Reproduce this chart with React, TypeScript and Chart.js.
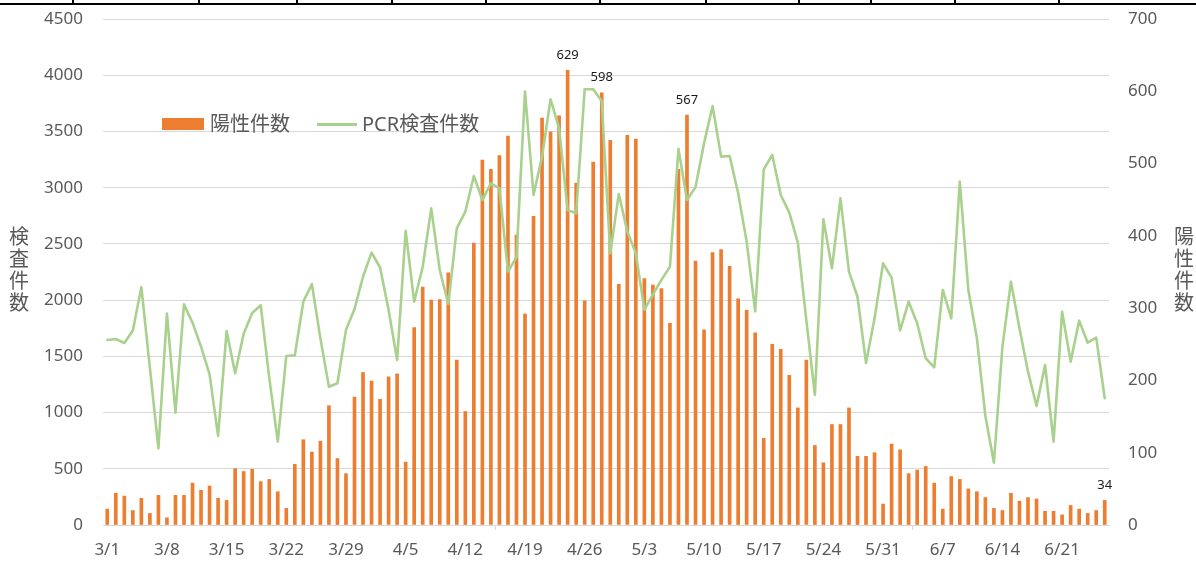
import React, { useEffect, useRef } from "react";
import { Chart, registerables } from "chart.js";

Chart.register(...registerables);

// ---- categories (3/1 .. 6/26) ----
const monthLengths: [number, number][] = [[3, 31], [4, 30], [5, 31], [6, 30]];
const allDays: string[] = [];
for (const [m, n] of monthLengths) for (let d = 1; d <= n; d++) allDays.push(`${m}/${d}`);
const categories: string[] = allDays.slice(0, 118);

// ---- series ----
const positives: number[] = [
  22, 44, 40, 20, 37, 16, 41, 10, 41, 41,
  58, 48, 54, 37, 34, 78, 74, 77, 60, 63,
  46, 23, 84, 118, 101, 116, 165, 92, 71, 177,
  211, 199, 174, 205, 209, 87, 273, 329, 311, 312,
  349, 228, 157, 390, 505, 492, 511, 538, 401, 292,
  427, 563, 544, 566, 629, 473, 310, 502, 598, 532,
  333, 539, 534, 341, 332, 327, 279, 492, 567, 365,
  270, 377, 381, 358, 313, 297, 266, 120, 250, 243,
  207, 162, 228, 110, 86, 139, 139, 162, 95, 95,
  100, 29, 112, 104, 71, 76, 81, 58, 22, 67,
  63, 50, 46, 38, 23, 20, 44, 33, 38, 36,
  19, 19, 14, 27, 22, 16, 20, 34,
];

const pcrTests: number[] = [
  1645, 1654, 1619, 1730, 2115, 1400, 682, 1880, 999, 1962,
  1800, 1586, 1340, 792, 1725, 1349, 1700, 1885, 1954, 1310,
  741, 1503, 1510, 1986, 2143, 1660, 1230, 1260, 1735, 1920,
  2208, 2422, 2290, 1912, 1468, 2617, 1986, 2297, 2816, 2268,
  1965, 2638, 2787, 3104, 2890, 3039, 2994, 2253, 2381, 3854,
  2935, 3276, 3786, 3528, 2801, 2772, 3875, 3875, 3771, 2416,
  2944, 2609, 2416, 1915, 2050, 2180, 2297, 3345, 2890, 3005,
  3394, 3726, 3276, 3282, 2950, 2520, 1900, 3163, 3291, 2935,
  2778, 2511, 1820, 1156, 2719, 2283, 2905, 2253, 2030, 1440,
  1838, 2327, 2200, 1730, 1986, 1794, 1483, 1402, 2090, 1838,
  3054, 2090, 1665, 970, 554, 1586, 2164, 1750, 1364, 1058,
  1423, 741, 1897, 1453, 1817, 1621, 1666, 1127,
];

// bars that carry a value label
const labeledBars: number[] = [54, 58, 68, 117];

// axis settings
const leftMax = 4500;
const leftStep = 500;
const rightMax = 700;
const rightStep = 100;
const xLabelEvery = 7;

const seriesNames = { bar: "陽性件数", line: "PCR検査件数" };
const axisTitles = { left: "検査件数", right: "陽性件数" };

const FONT = '"Noto Sans", "Noto Sans CJK JP", sans-serif';
const GRAY = "#595959";
const GRID = "#d9d9d9";
const ORANGE = "#ed7d31";
const GREEN = "#a9d18e";

const topTicks = [73, 199, 297, 392, 486, 600, 706, 799, 871, 955, 1059];

const barLabelPlugin = {
  id: "barLabels",
  afterDatasetsDraw(chart: any) {
    const meta = chart.getDatasetMeta(0);
    const ctx = chart.ctx;
    ctx.save();
    ctx.font = `13px ${FONT}`;
    ctx.fillStyle = "#1a1a1a";
    ctx.textAlign = "center";
    ctx.textBaseline = "middle";
    for (const i of labeledBars) {
      const el = meta.data[i];
      if (!el) continue;
      ctx.fillText(String(positives[i]), el.x, el.y - 15);
    }
    ctx.restore();
  },
};

export default function App() {
  const ref = useRef<HTMLCanvasElement>(null);

  useEffect(() => {
    if (!ref.current) return;
    const tickVis = (c: any) => (c.index % xLabelEvery === 0 ? GRID : "rgba(0,0,0,0)");
    const chart = new Chart(ref.current, {
      type: "bar",
      data: {
        labels: categories,
        datasets: [
          {
            type: "bar",
            label: seriesNames.bar,
            data: positives,
            backgroundColor: ORANGE,
            borderWidth: 0,
            barThickness: 3,
            yAxisID: "yR",
            order: 2,
          },
          {
            type: "line",
            label: seriesNames.line,
            data: pcrTests,
            borderColor: GREEN,
            borderWidth: 2.6,
            pointRadius: 0,
            tension: 0,
            borderJoinStyle: "round",
            borderCapStyle: "round",
            fill: false,
            yAxisID: "yL",
            order: 1,
          } as any,
        ],
      },
      options: {
        responsive: false,
        maintainAspectRatio: false,
        devicePixelRatio: 1,
        animation: false,
        layout: { padding: { top: 19, left: 0, right: 0, bottom: 0 } },
        plugins: {
          legend: { display: false },
          tooltip: { enabled: false },
        },
        scales: {
          x: {
            type: "category",
            offset: true,
            grid: {
              offset: true,
              drawOnChartArea: false,
              drawTicks: true,
              tickLength: 5,
              color: tickVis,
              tickColor: tickVis,
              lineWidth: 1,
            },
            border: { display: true, color: GRID, width: 1 },
            ticks: {
              autoSkip: false,
              maxRotation: 0,
              minRotation: 0,
              padding: 10,
              color: GRAY,
              font: { family: FONT, size: 17 },
              callback: (_v: any, idx: number) => (idx % xLabelEvery === 0 ? categories[idx] : null),
            },
            afterFit: (s: any) => {
              s.height = 38;
            },
          },
          yL: {
            type: "linear",
            position: "left",
            min: 0,
            max: leftMax,
            ticks: {
              stepSize: leftStep,
              padding: 20,
              color: GRAY,
              font: { family: FONT, size: 17 },
              callback: (v: any) => String(v),
            },
            grid: { color: GRID, drawTicks: false, lineWidth: 1 },
            border: { display: false },
            afterFit: (s: any) => {
              s.width = 103;
              s.paddingTop = 0;
              s.paddingBottom = 0;
            },
          },
          yR: {
            type: "linear",
            position: "right",
            min: 0,
            max: rightMax,
            ticks: {
              stepSize: rightStep,
              padding: 19,
              color: GRAY,
              font: { family: FONT, size: 17 },
              callback: (v: any) => String(v),
            },
            grid: { drawOnChartArea: false, drawTicks: false },
            border: { display: false },
            afterFit: (s: any) => {
              s.width = 87;
              s.paddingTop = 0;
              s.paddingBottom = 0;
            },
          },
        },
      } as any,
      plugins: [barLabelPlugin],
    });
    return () => chart.destroy();
  }, []);

  const stackStyle = (left: number): React.CSSProperties => ({
    position: "absolute",
    left,
    top: 226,
    width: 22,
    fontFamily: FONT,
    fontSize: 20,
    lineHeight: "22px",
    color: GRAY,
    textAlign: "center",
  });

  return (
    <div
      style={{
        position: "fixed",
        left: 0,
        top: 0,
        width: 1196,
        height: 563,
        background: "#fff",
        overflow: "hidden",
      }}
    >
      <canvas
        ref={ref}
        width={1196}
        height={563}
        style={{ position: "absolute", left: 0, top: 0, width: 1196, height: 563 }}
      />
      {/* top border of the cropped table above */}
      <div style={{ position: "absolute", left: 0, top: 3, width: 1196, height: 2, background: "#000" }} />
      {topTicks.map((x) => (
        <div key={x} style={{ position: "absolute", left: x - 1, top: 0, width: 2, height: 5, background: "#000" }} />
      ))}
      {/* legend */}
      <div style={{ position: "absolute", left: 162, top: 118, width: 42, height: 12, background: ORANGE }} />
      <div
        style={{
          position: "absolute",
          left: 210,
          top: 113,
          fontFamily: FONT,
          fontSize: 20,
          lineHeight: "22px",
          color: GRAY,
          whiteSpace: "nowrap",
        }}
      >
        {seriesNames.bar}
      </div>
      <div style={{ position: "absolute", left: 317, top: 122.5, width: 40, height: 3, background: GREEN }} />
      <div
        style={{
          position: "absolute",
          left: 362,
          top: 113,
          fontFamily: FONT,
          fontSize: 20,
          lineHeight: "22px",
          color: GRAY,
          whiteSpace: "nowrap",
        }}
      >
        {seriesNames.line}
      </div>
      {/* axis titles */}
      <div style={stackStyle(8)}>
        {axisTitles.left.split("").map((c, i) => (
          <div key={i}>{c}</div>
        ))}
      </div>
      <div style={stackStyle(1173)}>
        {axisTitles.right.split("").map((c, i) => (
          <div key={i}>{c}</div>
        ))}
      </div>
    </div>
  );
}
